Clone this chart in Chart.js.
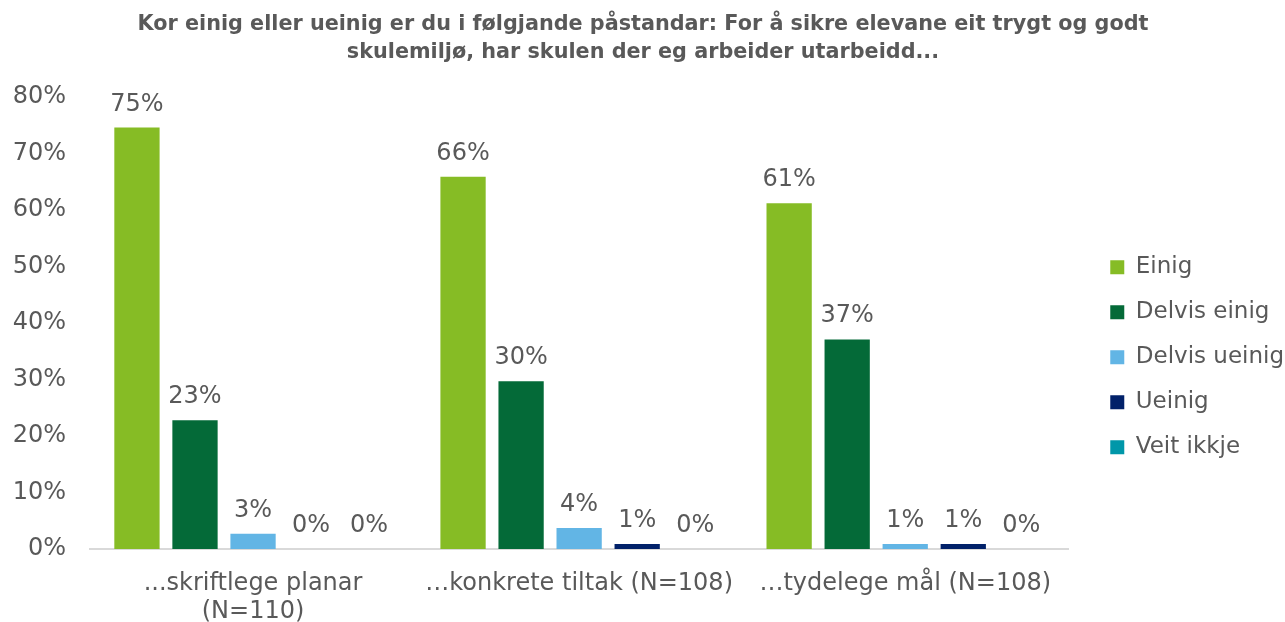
<!DOCTYPE html>
<html>
<head>
<meta charset="utf-8">
<script src="https://cdn.jsdelivr.net/npm/chart.js@4"></script>
<style>
  html, body { margin: 0; padding: 0; background: #fff; }
  #wrap { width: 1285px; height: 622px; }
</style>
</head>
<body>
<div id="wrap"><canvas id="chart"></canvas></div>
<script>
// categories and series
const categories = [['...skriftlege planar', '(N=110)'], '…konkrete tiltak (N=108)', '…tydelege mål (N=108)'];
const seriesNames = ['Einig', 'Delvis einig', 'Delvis ueinig', 'Ueinig', 'Veit ikkje'];
const einig = [74.6, 65.9, 61.2];
const delvisEinig = [22.8, 29.7, 37.1];
const delvisUeinig = [2.7, 3.7, 0.9];
const ueinig = [0, 0.9, 0.9];
const veitIkkje = [0, 0, 0];
const colors = ['#86bc25', '#046a38', '#62b5e5', '#012169', '#0097a9'];

const textColor = '#595959';
const font = "'DejaVu Sans', Verdana, sans-serif";

// simple value labels above each bar
const barLabels = {
  id: 'barLabels',
  afterDatasetsDraw(chart) {
    const ctx = chart.ctx;
    ctx.save();
    ctx.font = '24px ' + font;
    ctx.fillStyle = textColor;
    ctx.textAlign = 'center';
    ctx.textBaseline = 'alphabetic';
    chart.data.datasets.forEach((ds, i) => {
      chart.getDatasetMeta(i).data.forEach((bar, j) => {
        ctx.fillText(Math.round(ds.data[j]) + '%', bar.x, bar.y - 17);
      });
    });
    ctx.restore();
  }
};

// nudge legend and title a bit, excel-style spacing
const nudge = {
  id: 'nudge',
  afterLayout(chart) {
    const lg = chart.legend;
    lg.left += 20; lg.right += 20;
    lg.top += 41; lg.bottom += 41;
    const t = chart.titleBlock;
    t.left += 3; t.right += 3;
  }
};

const allSeries = [einig, delvisEinig, delvisUeinig, ueinig, veitIkkje];

new Chart(document.querySelector('#chart'), {
  type: 'bar',
  data: {
    labels: categories,
    datasets: allSeries.map((d, i) => ({
      label: seriesNames[i],
      data: d,
      backgroundColor: colors[i],
      categoryPercentage: 0.89,
      barPercentage: 0.78
    }))
  },
  options: {
    responsive: true,
    maintainAspectRatio: false,
    animation: false,
    layout: { padding: { left: 6, right: 11, top: 10.5, bottom: 0 } },
    plugins: {
      title: {
        display: true,
        text: ['Kor einig eller ueinig er du i følgjande påstandar: For å sikre elevane eit trygt og godt', 'skulemiljø, har skulen der eg arbeider utarbeidd...'],
        color: textColor,
        font: { family: font, size: 20.75, weight: 'bold', lineHeight: 1.35 },
        padding: { top: 0, bottom: 30.5 }
      },
      legend: {
        position: 'right',
        labels: {
          color: textColor,
          font: { family: font, size: 23 },
          boxWidth: 14,
          boxHeight: 14,
          padding: 22
        }
      },
      tooltip: { enabled: false }
    },
    scales: {
      x: {
        grid: { display: false, drawTicks: false },
        border: { color: '#d9d9d9', width: 2 },
        ticks: { color: textColor, font: { family: font, size: 24, lineHeight: 1.15 }, padding: 21, maxRotation: 0 },
        afterFit: s => { s.height = 73; }
      },
      y: {
        min: 0,
        max: 80,
        grid: { display: false, drawTicks: false },
        border: { display: false },
        ticks: {
          stepSize: 10,
          color: textColor,
          font: { family: font, size: 24 },
          padding: 24,
          callback: v => v + '%'
        },
        afterFit: s => { s.width = 84; }
      }
    }
  },
  plugins: [barLabels, nudge]
});
</script>
</body>
</html>
